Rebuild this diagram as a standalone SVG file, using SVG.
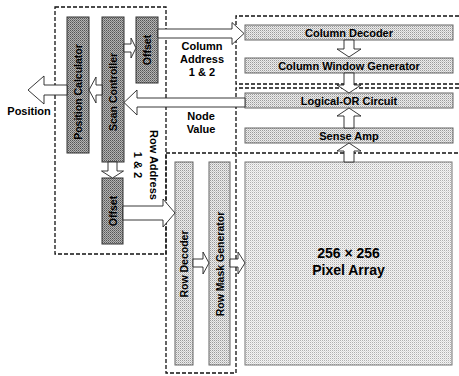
<svg xmlns="http://www.w3.org/2000/svg" width="459" height="376" viewBox="0 0 459 376">
<defs>
<pattern id="pDark" width="2" height="2" patternUnits="userSpaceOnUse">
<rect width="2" height="2" fill="#b4b4b4"/><rect width="1" height="1" fill="#555"/><rect x="1" y="1" width="1" height="1" fill="#777"/>
</pattern>
<pattern id="pLight" width="2" height="2" patternUnits="userSpaceOnUse">
<rect width="2" height="2" fill="#ececec"/><rect width="1" height="1" fill="#9a9a9a"/><rect x="1" y="1" width="1" height="1" fill="#c8c8c8"/>
</pattern>
<pattern id="pArray" width="2" height="2" patternUnits="userSpaceOnUse">
<rect width="2" height="2" fill="#f4f4f4"/><rect width="1" height="1" fill="#b0b0b0"/><rect x="1" y="1" width="1" height="1" fill="#dcdcdc"/>
</pattern>
</defs>
<style>
.dash{fill:none;stroke:#111;stroke-width:1.3;stroke-dasharray:4 2}
.dark{fill:url(#pDark);stroke:#333;stroke-width:1}
.light{fill:url(#pLight);stroke:#666;stroke-width:1}
.arr{fill:#fff;stroke:#222;stroke-width:0.9;stroke-linejoin:miter}
text{font-family:"Liberation Sans",Arial,sans-serif;font-weight:bold;fill:#000}
.lbl{font-size:11px;text-anchor:middle}
.vl{font-size:10.5px;text-anchor:middle}
.big{font-size:14px;text-anchor:middle}
</style>
<rect width="459" height="376" fill="#fff"/>
<g id="frames">
<rect class="dash" x="55" y="7" width="111" height="247"/>
<path class="dash" d="M459,16 H236 V84 H459"/>
<path class="dash" d="M459,88 H236 V373 H166 V153 H459"/>
</g>
<g id="position-calculator"><rect class="dark" x="67" y="17" width="22" height="136"/><text class="vl" transform="translate(82,92) rotate(-90)">Position Calculator</text></g>
<g id="scan-controller"><rect class="dark" x="102" y="17" width="22" height="145"/><text class="vl" transform="translate(117,92) rotate(-90)">Scan Controller</text></g>
<g id="offset-col"><rect class="dark" x="136" y="17" width="22" height="66"/><text class="vl" transform="translate(151,50) rotate(-90)">Offset</text></g>
<g id="offset-row"><rect class="dark" x="102" y="178" width="21" height="66"/><text class="vl" transform="translate(116.5,211) rotate(-90)">Offset</text></g>
<g id="column-decoder"><rect class="light" x="245" y="25" width="208" height="15"/><text class="lbl" x="349" y="36.5">Column Decoder</text></g>
<g id="column-window-generator"><rect class="light" x="245" y="58" width="208" height="15"/><text class="lbl" x="349" y="69.5">Column Window Generator</text></g>
<g id="logical-or"><rect class="light" x="245" y="93" width="208" height="15"/><text class="lbl" x="349" y="104.5">Logical-OR Circuit</text></g>
<g id="sense-amp"><rect class="light" x="245" y="128" width="208" height="15"/><text class="lbl" x="349" y="139.5">Sense Amp</text></g>
<g id="row-decoder"><rect class="light" x="175" y="162" width="18" height="203"/><text class="vl" transform="translate(188,264) rotate(-90)">Row Decoder</text></g>
<g id="row-mask-generator"><rect class="light" x="209" y="162" width="21" height="203"/><text class="vl" transform="translate(223.5,264) rotate(-90)">Row Mask Generator</text></g>
<g id="pixel-array"><rect x="245" y="162" width="207" height="203" fill="url(#pArray)" stroke="#777" stroke-width="1"/><text class="big" x="348.5" y="258">256 × 256</text><text class="big" x="348.5" y="275">Pixel Array</text></g>
<g id="connectors">
<polygon class="arr" points="158,29 232,29 232,22.5 244,33.5 232,44.5 232,38 158,38"/>
<polygon class="arr" points="245,98 137,98 137,90 124,102.5 137,115 137,107 245,107"/>
<polygon class="arr" points="67,85 44,85 44,76 28,90 44,104 44,95 67,95"/>
<polygon class="arr" points="102,85 96,85 96,77 89,90 96,103 96,95 102,95"/>
<polygon class="arr" points="124,44 131,44 131,38 136,48 131,58 131,52 124,52"/>
<polygon class="arr" points="108,162 108,171 101.5,171 112.5,178 123.5,171 117,171 117,162"/>
<polygon class="arr" points="123,206 163,206 163,199 175,213 163,227 163,220 123,220"/>
<polygon class="arr" points="193,259 203,259 203,252 209,263 203,274 203,267 193,267"/>
<polygon class="arr" points="230,259 238,259 238,252 245,263 238,274 238,267 230,267"/>
<polygon class="arr" points="344,40 344,49 337,49 349,57 361,49 354,49 354,40"/>
<polygon class="arr" points="344,73 344,85 337,85 349,93 361,85 354,85 354,73"/>
<polygon class="arr" points="344,128 344,116 337,116 349,108 361,116 354,116 354,128"/>
<polygon class="arr" points="344,162 344,151 337,151 349,143 361,151 354,151 354,162"/>
</g>
<g id="labels">
<text class="lbl" x="29" y="115">Position</text>
<text class="lbl" x="202" y="50">Column</text>
<text class="lbl" x="202" y="63">Address</text>
<text class="lbl" x="202" y="76">1 &amp; 2</text>
<text class="lbl" x="201" y="120">Node</text>
<text class="lbl" x="201" y="133">Value</text>
<text class="lbl" transform="translate(150,165) rotate(90)">Row Address</text>
<text class="lbl" transform="translate(134,165) rotate(90)">1 &amp; 2</text>
</g>
</svg>
